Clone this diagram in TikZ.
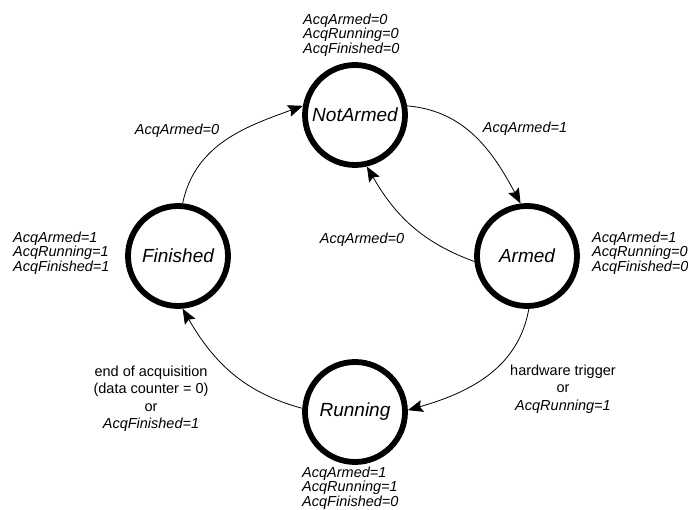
\documentclass[tikz,border=0pt]{standalone}
\usepackage{fontspec}
\setmainfont{Liberation Sans}
\usetikzlibrary{arrows.meta}
\begin{document}
\begin{tikzpicture}[x=1pt,y=1pt,
 state/.style={circle,draw,line width=5.8pt,minimum size=100pt,inner sep=0pt,font=\fontsize{19}{22}\selectfont\itshape},
 cond/.style={inner sep=0pt,align=left,font=\fontsize{14.5}{13.5}\selectfont\itshape},
 elabel/.style={inner sep=0pt,align=center,font=\fontsize{14.5}{17.5}\selectfont},
 trans/.style={line width=0.8pt,-{Stealth[length=15pt,width=12pt,inset=2.5pt]}}]
\useasboundingbox (0,0) rectangle (688,-510);
\node[state] (na) at (355,-115) {NotArmed};
\node[state] (ar) at (527,-256) {Armed};
\node[state] (ru) at (355,-412) {Running};
\node[state] (fi) at (178,-256) {Finished};

\node[cond,anchor=west] (cna) at (303,-35) {AcqArmed=0\\AcqRunning=0\\AcqFinished=0};
\node[cond,anchor=west] (cfi) at (13,-253) {AcqArmed=1\\AcqRunning=1\\AcqFinished=1};
\node[cond,anchor=west] (car) at (592,-253) {AcqArmed=1\\AcqRunning=0\\AcqFinished=0};
\node[cond,anchor=west] (cru) at (302,-488) {AcqArmed=1\\AcqRunning=1\\AcqFinished=0};

\draw[trans] (fi.85) to[out=78,in=200] (na.170);
\draw[trans] (na.10) to[out=-5,in=118] (ar.97);
\draw[trans] (ar.186) to[out=160,in=-60] (na.-77);
\draw[trans] (ar.-88) to[out=-100,in=16] (ru.2);
\draw[trans] (ru.176) to[out=165,in=-60] (fi.-85);

\node[elabel,font=\fontsize{14.5}{17.5}\selectfont\itshape] (l1) at (177,-131) {AcqArmed=0};
\node[elabel,font=\fontsize{14.5}{17.5}\selectfont\itshape] (l2) at (525,-129) {AcqArmed=1};
\node[elabel,font=\fontsize{14.5}{17.5}\selectfont\itshape] (l3) at (362,-240) {AcqArmed=0};
\node[elabel] (l4) at (563,-389) {hardware trigger\\or\\\textit{AcqRunning=1}};
\node[elabel] (l5) at (151,-399) {end of acquisition\\(data counter = 0)\\or\\\textit{AcqFinished=1}};
\end{tikzpicture}
\end{document}
